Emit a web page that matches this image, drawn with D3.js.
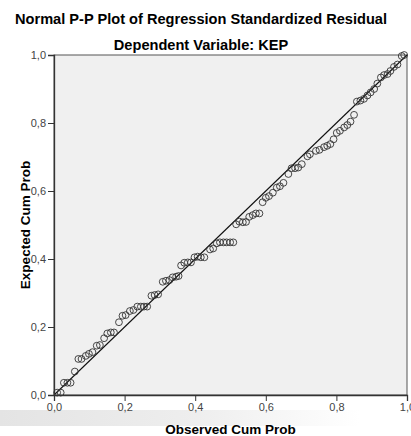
<!DOCTYPE html>
<html>
<head>
<meta charset="utf-8">
<script src="https://cdn.jsdelivr.net/npm/d3@7"></script>
<style>
  body { margin: 0; background: #fff; }
  svg { display: block; font-family: Arial, "Liberation Sans", sans-serif; }
</style>
</head>
<body>
<div id="my_dataviz"></div>
<script>
// chart values
var observed = [0.009,0.019,0.028,0.038,0.047,0.059,0.069,0.078,0.090,0.099,
  0.109,0.121,0.130,0.142,0.151,0.161,0.170,0.184,0.194,0.203,
  0.215,0.225,0.236,0.246,0.255,0.264,0.276,0.285,0.295,0.308,
  0.317,0.327,0.336,0.346,0.353,0.360,0.369,0.379,0.388,0.398,
  0.407,0.416,0.426,0.442,0.451,0.461,0.470,0.480,0.489,0.499,
  0.508,0.516,0.525,0.535,0.544,0.553,0.563,0.572,0.582,0.591,
  0.600,0.609,0.620,0.631,0.640,0.650,0.664,0.673,0.683,0.692,
  0.702,0.718,0.725,0.742,0.752,0.765,0.774,0.783,0.792,0.801,
  0.810,0.822,0.831,0.840,0.850,0.858,0.868,0.878,0.888,0.897,
  0.907,0.916,0.926,0.935,0.945,0.953,0.963,0.973,0.985,0.992]
var expected = [0.007,0.007,0.036,0.036,0.036,0.069,0.106,0.106,0.115,0.121,
  0.126,0.145,0.147,0.167,0.181,0.184,0.184,0.214,0.233,0.235,
  0.247,0.250,0.260,0.260,0.260,0.260,0.292,0.294,0.296,0.333,
  0.336,0.338,0.346,0.348,0.350,0.381,0.389,0.390,0.390,0.405,
  0.407,0.405,0.405,0.428,0.431,0.446,0.449,0.449,0.449,0.449,
  0.449,0.502,0.510,0.508,0.509,0.524,0.529,0.534,0.534,0.567,
  0.580,0.585,0.595,0.610,0.614,0.624,0.650,0.667,0.667,0.669,
  0.679,0.702,0.708,0.718,0.721,0.729,0.733,0.738,0.752,0.771,
  0.777,0.787,0.794,0.804,0.824,0.863,0.866,0.871,0.881,0.890,
  0.900,0.916,0.934,0.941,0.944,0.953,0.965,0.972,0.997,1.000]
var xTicks = [0, 0.2, 0.4, 0.6, 0.8, 1.0]
var yTicks = [0, 0.2, 0.4, 0.6, 0.8, 1.0]
var refLine = [0, 1]

var width = 411
var height = 436
var margin = {top: 55, right: 4, bottom: 41, left: 54}

var svg = d3.select("#my_dataviz")
  .append("svg")
    .attr("width", width)
    .attr("height", height)

// faint grey band under the x axis (scan artefact in the original)
var grad = svg.append("defs").append("linearGradient")
    .attr("id", "band")
grad.append("stop").attr("offset", "0%").attr("stop-color", "#e4e4e4")
grad.append("stop").attr("offset", "55%").attr("stop-color", "#eeeeee")
grad.append("stop").attr("offset", "100%").attr("stop-color", "#ffffff")
svg.append("rect")
    .attr("x", 0).attr("y", 410)
    .attr("width", 360).attr("height", 16)
    .attr("fill", "url(#band)")

var x = d3.scaleLinear().domain([0, 1]).range([margin.left, width - margin.right])
var y = d3.scaleLinear().domain([0, 1]).range([height - margin.bottom, margin.top])

var comma = d3.formatLocale({decimal: ",", thousands: ".", grouping: [3], currency: ["", ""]}).format(".1f")

// plot background
svg.append("rect")
    .attr("x", x(0)).attr("y", y(1))
    .attr("width", x(1) - x(0)).attr("height", y(0) - y(1))
    .attr("fill", "#f0f0f0")
    .attr("stroke", "#555")
    .attr("stroke-width", 1)

// diagonal reference line
svg.append("line")
    .attr("x1", x(refLine[0])).attr("y1", y(refLine[0]))
    .attr("x2", x(refLine[1])).attr("y2", y(refLine[1]))
    .attr("stroke", "#111")
    .attr("stroke-width", 1.1)

// points
svg.append("g")
  .selectAll("circle")
  .data(observed.map((d, i) => [d, expected[i]]))
  .join("circle")
    .attr("cx", d => x(d[0]))
    .attr("cy", d => y(d[1]))
    .attr("r", 3.4)
    .attr("fill", "none")
    .attr("stroke", "#333")
    .attr("stroke-width", 0.9)

// axes
var xAxis = svg.append("g")
    .attr("transform", "translate(0," + y(0) + ")")
    .call(d3.axisBottom(x).tickValues(xTicks).tickFormat(comma).tickSize(6).tickPadding(2))
var yAxis = svg.append("g")
    .attr("transform", "translate(" + x(0) + ",0)")
    .call(d3.axisLeft(y).tickValues(yTicks).tickFormat(comma).tickSize(6).tickPadding(2))

;[xAxis, yAxis].forEach(function(a) {
  a.select(".domain").attr("stroke", "#333").attr("stroke-width", 1.3)
  a.selectAll(".tick line").attr("stroke", "#333")
  a.selectAll("text")
    .attr("font-size", 11)
    .attr("font-family", "Arial, 'Liberation Sans', sans-serif")
    .attr("fill", "#444")
})

// titles
svg.append("text")
    .attr("x", 201).attr("y", 23.5)
    .attr("text-anchor", "middle")
    .attr("font-size", 14.6).attr("font-weight", "bold")
    .text("Normal P-P Plot of Regression Standardized Residual")
svg.append("text")
    .attr("x", 201).attr("y", 50)
    .attr("text-anchor", "middle")
    .attr("font-size", 14.6).attr("font-weight", "bold")
    .text("Dependent Variable: KEP")

svg.append("text")
    .attr("x", (x(0) + x(1)) / 2).attr("y", 434)
    .attr("text-anchor", "middle")
    .attr("font-size", 13.5).attr("font-weight", "bold")
    .text("Observed Cum Prob")
svg.append("text")
    .attr("transform", "translate(30," + ((y(0) + y(1)) / 2) + ") rotate(-90)")
    .attr("text-anchor", "middle")
    .attr("font-size", 13.5).attr("font-weight", "bold")
    .text("Expected Cum Prob")
</script>
</body>
</html>
